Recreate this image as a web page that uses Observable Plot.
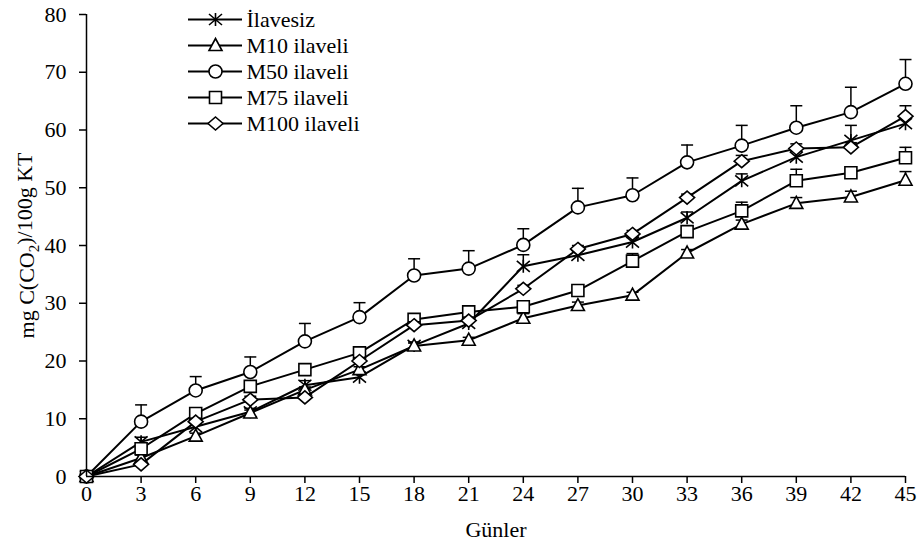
<!DOCTYPE html>
<html><head><meta charset="utf-8">
<script src="https://cdn.jsdelivr.net/npm/d3@7"></script>
<script src="https://cdn.jsdelivr.net/npm/@observablehq/plot@0.6"></script>
<style>
body{margin:0;background:#fff;}
#wrap{position:relative;width:921px;height:550px;font-family:"Liberation Serif","Times New Roman",serif;}
#wrap svg{display:block;}
#legend{position:absolute;left:180px;top:0;}
</style></head><body><div id="wrap"></div>
<script>
const days = [0, 3, 6, 9, 12, 15, 18, 21, 24, 27, 30, 33, 36, 39, 42, 45];
const yTicks = [0, 10, 20, 30, 40, 50, 60, 70, 80];
const seriesNames = ["İlavesiz", "M10 ilaveli", "M50 ilaveli", "M75 ilaveli", "M100 ilaveli"];

const ilavesiz = [0, 6.0, 8.6, 11.2, 15.8, 17.2, 22.7, 26.5, 36.4, 38.3, 40.6, 44.8, 51.2, 55.3, 58.2, 61.1];
const m10      = [0, 3.2, 7.0, 11.0, 15.0, 18.5, 22.6, 23.6, 27.4, 29.6, 31.4, 38.7, 43.7, 47.3, 48.4, 51.3];
const m50      = [0, 9.5, 14.9, 18.1, 23.4, 27.6, 34.8, 36.0, 40.1, 46.6, 48.7, 54.4, 57.3, 60.4, 63.1, 68.0];
const m75      = [0, 4.8, 10.9, 15.6, 18.5, 21.4, 27.2, 28.5, 29.4, 32.2, 37.3, 42.4, 46.0, 51.2, 52.6, 55.2];
const m100     = [0, 2.1, 9.5, 13.3, 13.7, 20.0, 26.2, 27.0, 32.5, 39.4, 42.0, 48.3, 54.6, 56.8, 57.0, 62.4];

const ilavesizErr = [0, 0.8, 0.6, 0.6, 0.8, 0.6, 0.6, 0.8, 2.0, 0.8, 0.8, 1.0, 1.2, 1.0, 2.6, 1.2];
const m10Err      = [0, 0.5, 0.5, 0.5, 0.5, 0.5, 0.5, 0.5, 0.8, 0.6, 0.5, 0.6, 0.7, 1.0, 1.0, 1.5];
const m50Err      = [0, 2.9, 2.4, 2.6, 3.1, 2.5, 2.9, 3.1, 2.8, 3.3, 3.0, 3.0, 3.5, 3.8, 4.3, 4.2];
const m75Err      = [0, 0.6, 0.6, 0.6, 0.6, 0.6, 0.6, 0.6, 0.8, 0.8, 1.3, 1.0, 1.5, 2.0, 1.0, 1.8];
const m100Err     = [0, 0.5, 0.6, 0.6, 0.6, 0.6, 0.6, 0.6, 0.6, 0.6, 0.6, 0.6, 1.0, 0.8, 0.8, 1.8];

// custom marker shapes
const symAsterisk = {draw(c){ c.moveTo(-6.5,-5.5); c.lineTo(6.5,5.5); c.moveTo(-6.5,5.5); c.lineTo(6.5,-5.5); c.moveTo(0,-6.5); c.lineTo(0,6.5); }};
const symTriangle = {draw(c){ c.moveTo(0,-7); c.lineTo(6.5,5); c.lineTo(-6.5,5); c.closePath(); }};
const symCircle   = {draw(c){ c.moveTo(6.5,0); c.arc(0,0,6.5,0,2*Math.PI); c.closePath(); }};
const symSquare   = {draw(c){ c.moveTo(-6,-6); c.lineTo(6,-6); c.lineTo(6,6); c.lineTo(-6,6); c.closePath(); }};
const symDiamond  = {draw(c){ c.moveTo(0,-6.5); c.lineTo(7.5,0); c.lineTo(0,6.5); c.lineTo(-7.5,0); c.closePath(); }};
const symCap      = {draw(c){ c.moveTo(-6,0); c.lineTo(6,0); }};

const series = [
  {name: seriesNames[0], vals: ilavesiz, errs: ilavesizErr, sym: symAsterisk},
  {name: seriesNames[1], vals: m10, errs: m10Err, sym: symTriangle},
  {name: seriesNames[2], vals: m50, errs: m50Err, sym: symCircle},
  {name: seriesNames[3], vals: m75, errs: m75Err, sym: symSquare},
  {name: seriesNames[4], vals: m100, errs: m100Err, sym: symDiamond}
];

const font = "Liberation Serif";
const seriesMarks = series.flatMap(s => {
  const data = days.map((d, i) => ({day: d, v: s.vals[i], e: s.errs[i]}));
  const withErr = data.filter(d => d.e > 0);
  return [
    Plot.line(data, {x: "day", y: "v", stroke: "black", strokeWidth: 2}),
    Plot.ruleX(withErr, {x: "day", y1: "v", y2: d => d.v + d.e, stroke: "black", strokeWidth: 1.5}),
    Plot.dot(withErr, {x: "day", y: d => d.v + d.e, symbol: symCap, r: 6, stroke: "black", strokeWidth: 1.5}),
    Plot.dot(data, {x: "day", y: "v", symbol: s.sym, r: 6.5, fill: "white", stroke: "black", strokeWidth: 1.6})
  ];
});

const chart = Plot.plot({
  width: 921,
  height: 550,
  marginLeft: 86,
  marginRight: 16,
  marginTop: 14,
  marginBottom: 74,
  style: {fontFamily: font, fontSize: "22px", color: "black", background: "white"},
  x: {domain: [0, 45]},
  y: {domain: [0, 80]},
  marks: [
    Plot.axisX({ticks: days, tickFormat: d => String(d), tickSize: 7, tickPadding: 2, strokeWidth: 1.5,
      fontSize: 22, fontFamily: font, label: "Günler", labelAnchor: "center", labelArrow: "none", labelOffset: 60}),
    Plot.axisY({ticks: yTicks, tickFormat: d => String(d), tickSize: 7, tickPadding: 13, strokeWidth: 1.5,
      fontSize: 22, fontFamily: font, label: "mg C(CO2)/100g KT", labelAnchor: "center", labelArrow: "none", labelOffset: 68}),
    ...seriesMarks,
    Plot.ruleY([0], {stroke: "black", strokeWidth: 1.5}),
    Plot.ruleX([0], {stroke: "black", strokeWidth: 1.5})
  ]
});

// subscript in y-axis label
const lab = chart.querySelector('g[aria-label="y-axis label"] text');
if (lab) {
  lab.textContent = "";
  const ns = "http://www.w3.org/2000/svg";
  const parts = [["mg C(CO", null], ["2", "sub"], [")/100g KT", "back"]];
  for (const [txt, kind] of parts) {
    const ts = document.createElementNS(ns, "tspan");
    ts.textContent = txt;
    if (kind === "sub") { ts.setAttribute("dy", "0.3em"); ts.setAttribute("font-size", "15"); }
    if (kind === "back") { ts.setAttribute("dy", "-0.3em"); }
    lab.appendChild(ts);
  }
}

const legend = Plot.plot({
  width: 230,
  height: 140,
  margin: 0,
  style: {fontFamily: font, fontSize: "22px", color: "black", background: "transparent", overflow: "visible"},
  x: {domain: [0, 1], range: [8, 62], axis: null},
  y: {type: "point", domain: seriesNames, range: [17, 124], padding: 0, axis: null},
  marks: [
    Plot.ruleY(seriesNames, {y: d => d, x1: () => 0, x2: () => 1, stroke: "black", strokeWidth: 2}),
    ...series.map(s => Plot.dot([s.name], {x: () => 0.5, y: d => d, symbol: s.sym, r: 6.5, fill: "white", stroke: "black", strokeWidth: 1.6})),
    Plot.text(seriesNames, {x: () => 1, y: d => d, text: d => d, textAnchor: "start", dx: 4, fontSize: 22, fontFamily: font, fill: "black"})
  ]
});
legend.id = "legend";

const wrap = document.getElementById("wrap");
wrap.appendChild(chart);
wrap.appendChild(legend);
</script>
</body></html>
